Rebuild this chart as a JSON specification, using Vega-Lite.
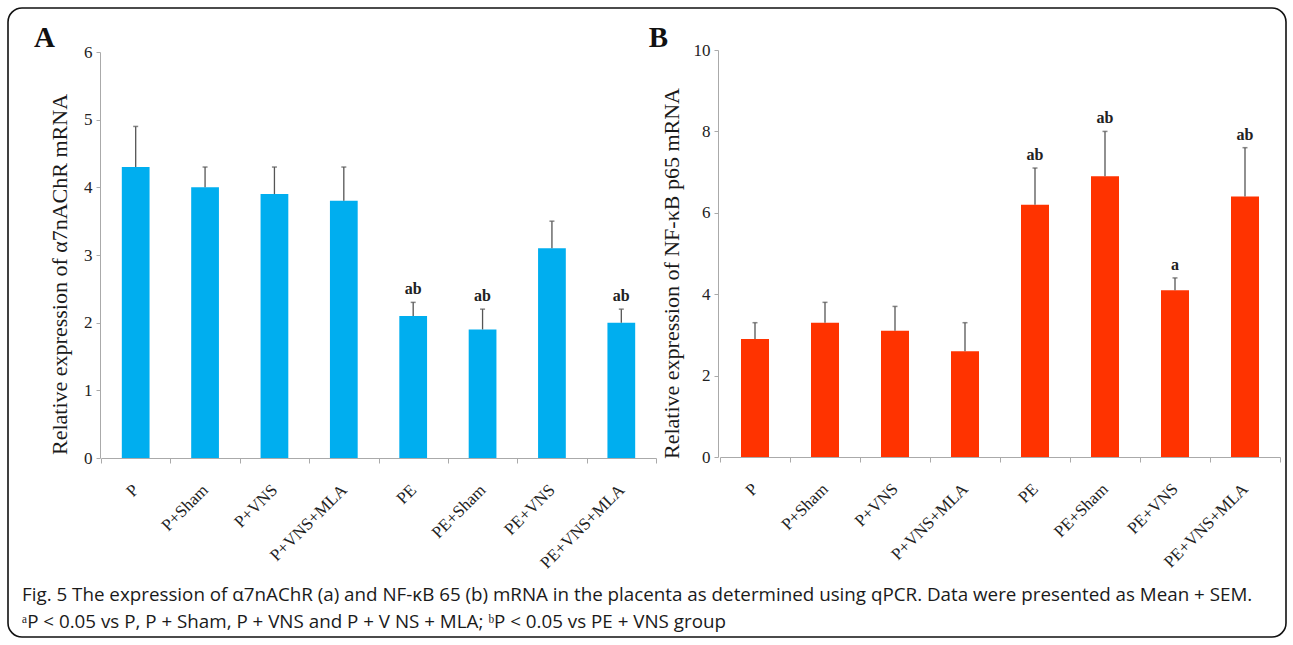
{
  "$schema": "https://vega.github.io/schema/vega-lite/v6.json",
  "width": 1278,
  "height": 629,
  "autosize": {"type": "none"},
  "padding": {"left": 8, "top": 8, "right": 7, "bottom": 8},
  "background": "white",
  "view": {"stroke": "#111111", "strokeWidth": 1.6, "cornerRadius": 14, "fill": "white"},
  "config": {"font": "Liberation Serif"},
  "title": {
    "text": [
      "Fig. 5 The expression of α7nAChR (a) and NF-κB 65 (b) mRNA in the placenta as determined using qPCR. Data were presented as Mean + SEM.",
      "ᵃP < 0.05 vs P, P + Sham, P + VNS and P + V NS + MLA; ᵇP < 0.05 vs PE + VNS group"
    ],
    "orient": "bottom",
    "anchor": "start",
    "frame": "group",
    "offset": -51,
    "dx": 14,
    "font": "Open Sans",
    "fontSize": 18.8,
    "fontWeight": "normal",
    "color": "#1a1a1a",
    "lineHeight": 27
  },
  "datasets": {
    "a": [
      {"group": "P", "mean": 4.3, "upper": 4.9, "sig": ""},
      {"group": "P+Sham", "mean": 4.0, "upper": 4.3, "sig": ""},
      {"group": "P+VNS", "mean": 3.9, "upper": 4.3, "sig": ""},
      {"group": "P+VNS+MLA", "mean": 3.8, "upper": 4.3, "sig": ""},
      {"group": "PE", "mean": 2.1, "upper": 2.3, "sig": "ab"},
      {"group": "PE+Sham", "mean": 1.9, "upper": 2.2, "sig": "ab"},
      {"group": "PE+VNS", "mean": 3.1, "upper": 3.5, "sig": ""},
      {"group": "PE+VNS+MLA", "mean": 2.0, "upper": 2.2, "sig": "ab"}
    ],
    "b": [
      {"group": "P", "mean": 2.9, "upper": 3.3, "sig": ""},
      {"group": "P+Sham", "mean": 3.3, "upper": 3.8, "sig": ""},
      {"group": "P+VNS", "mean": 3.1, "upper": 3.7, "sig": ""},
      {"group": "P+VNS+MLA", "mean": 2.6, "upper": 3.3, "sig": ""},
      {"group": "PE", "mean": 6.2, "upper": 7.1, "sig": "ab"},
      {"group": "PE+Sham", "mean": 6.9, "upper": 8.0, "sig": "ab"},
      {"group": "PE+VNS", "mean": 4.1, "upper": 4.4, "sig": "a"},
      {"group": "PE+VNS+MLA", "mean": 6.4, "upper": 7.6, "sig": "ab"}
    ]
  },
  "layer": [
    {
      "data": {"name": "a"},
      "encoding": {
        "x": {
          "field": "group", "type": "nominal", "sort": null,
          "scale": {"range": [93, 648], "paddingInner": 0, "paddingOuter": 0},
          "axis": {
            "orient": "bottom", "offset": -179, "title": "A",
            "titleX": 36, "titleY": -421, "titleAlign": "center", "titleBaseline": "middle", "titleAngle": 0,
            "titleFont": "Liberation Serif", "titleFontSize": 29, "titleFontWeight": "bold", "titleColor": "#111111",
            "labelAngle": -45, "labelAlign": "right", "labelBaseline": "middle", "labelPadding": 24,
            "labelFont": "Liberation Serif", "labelFontSize": 17, "labelColor": "#222222",
            "tickBand": "extent", "tickSize": 5, "tickColor": "#aaaaaa", "domainColor": "#aaaaaa", "grid": false
          }
        }
      },
      "layer": [
        {
          "mark": {"type": "bar", "color": "#00AEEF", "width": {"band": 0.4}},
          "encoding": {
            "y": {
              "field": "mean", "type": "quantitative", "title": "Relative expression of α7nAChR mRNA",
              "scale": {"domain": [0, 6], "range": [450, 44], "nice": false},
              "axis": {
                "orient": "left", "offset": -92, "values": [0, 1, 2, 3, 4, 5, 6], "format": "d", "grid": false,
                "tickSize": 4, "labelPadding": 4, "tickColor": "#aaaaaa", "domainColor": "#aaaaaa",
                "labelFont": "Liberation Serif", "labelFontSize": 17, "labelColor": "#222222",
                "titleFont": "Liberation Serif", "titleFontSize": 22, "titleFontWeight": "normal", "titleColor": "#1a1a1a",
                "titlePadding": 12, "titleY": 266
              }
            }
          }
        },
        {
          "mark": {"type": "rule", "color": "#555555", "strokeWidth": 1.3},
          "encoding": {
            "y": {"field": "mean", "type": "quantitative", "title": "Relative expression of α7nAChR mRNA"},
            "y2": {"field": "upper"}
          }
        },
        {
          "mark": {"type": "tick", "color": "#555555", "size": 5, "thickness": 1.5},
          "encoding": {
            "y": {"field": "upper", "type": "quantitative", "title": "Relative expression of α7nAChR mRNA"}
          }
        },
        {
          "mark": {"type": "text", "baseline": "alphabetic", "dy": -8, "fontSize": 16, "fontWeight": "bold", "font": "Liberation Serif", "color": "#222222"},
          "encoding": {
            "y": {"field": "upper", "type": "quantitative", "title": "Relative expression of α7nAChR mRNA"},
            "text": {"field": "sig"}
          }
        }
      ]
    },
    {
      "data": {"name": "b"},
      "encoding": {
        "x": {
          "field": "group", "type": "nominal", "sort": null,
          "scale": {"range": [712, 1272], "paddingInner": 0, "paddingOuter": 0},
          "axis": {
            "orient": "bottom", "offset": -180, "title": "B",
            "titleX": 650, "titleY": -420, "titleAlign": "center", "titleBaseline": "middle", "titleAngle": 0,
            "titleFont": "Liberation Serif", "titleFontSize": 29, "titleFontWeight": "bold", "titleColor": "#111111",
            "labelAngle": -45, "labelAlign": "right", "labelBaseline": "middle", "labelPadding": 24,
            "labelFont": "Liberation Serif", "labelFontSize": 17, "labelColor": "#222222",
            "tickBand": "extent", "tickSize": 5, "tickColor": "#aaaaaa", "domainColor": "#aaaaaa", "grid": false
          }
        }
      },
      "layer": [
        {
          "mark": {"type": "bar", "color": "#FF3300", "width": {"band": 0.4}},
          "encoding": {
            "y": {
              "field": "mean", "type": "quantitative", "title": "Relative expression of NF-κB p65 mRNA",
              "scale": {"domain": [0, 10], "range": [449, 42], "nice": false},
              "axis": {
                "orient": "left", "offset": -710, "values": [0, 2, 4, 6, 8, 10], "format": "d", "grid": false,
                "tickSize": 4, "labelPadding": 4, "tickColor": "#aaaaaa", "domainColor": "#aaaaaa",
                "labelFont": "Liberation Serif", "labelFontSize": 17, "labelColor": "#222222",
                "titleFont": "Liberation Serif", "titleFontSize": 22, "titleFontWeight": "normal", "titleColor": "#1a1a1a",
                "titlePadding": 10, "titleY": 265
              }
            }
          }
        },
        {
          "mark": {"type": "rule", "color": "#555555", "strokeWidth": 1.3},
          "encoding": {
            "y": {"field": "mean", "type": "quantitative", "title": "Relative expression of NF-κB p65 mRNA"},
            "y2": {"field": "upper"}
          }
        },
        {
          "mark": {"type": "tick", "color": "#555555", "size": 5, "thickness": 1.5},
          "encoding": {
            "y": {"field": "upper", "type": "quantitative", "title": "Relative expression of NF-κB p65 mRNA"}
          }
        },
        {
          "mark": {"type": "text", "baseline": "alphabetic", "dy": -8, "fontSize": 16, "fontWeight": "bold", "font": "Liberation Serif", "color": "#222222"},
          "encoding": {
            "y": {"field": "upper", "type": "quantitative", "title": "Relative expression of NF-κB p65 mRNA"},
            "text": {"field": "sig"}
          }
        }
      ]
    }
  ],
  "resolve": {
    "scale": {"x": "independent", "y": "independent"},
    "axis": {"x": "independent", "y": "independent"}
  }
}
